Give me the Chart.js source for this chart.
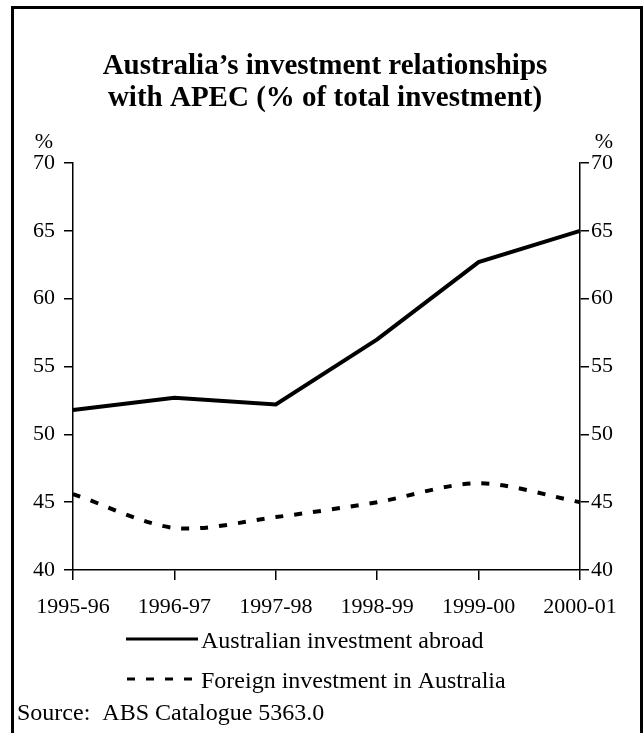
<!DOCTYPE html>
<html lang="en">
<head>
    <meta charset="UTF-8">
    <title>Australia's investment relationships with APEC</title>
    <script src="https://cdn.jsdelivr.net/npm/chart.js"></script>
    <style>
        body { margin: 0; background: #fff; }
        #apecChart { display: block; }
    </style>
</head>
<body>

<canvas id="apecChart" width="643" height="733"></canvas>

<script>
    const years = ['1995-96', '1996-97', '1997-98', '1998-99', '1999-00', '2000-01'];
    const abroad = [51.8, 52.7, 52.2, 57.0, 62.7, 65.0];
    const foreign = [45.6, 43.1, 43.9, 45.0, 46.4, 45.0];
    const yTicks = [40, 45, 50, 55, 60, 65, 70];
    const seriesNames = ['Australian investment abroad', 'Foreign investment in Australia'];

    const serif = "'Liberation Serif', 'Times New Roman', serif";
    const dash = [8, 11];

    // frame, title, % units, legend and source note
    const decorations = {
        id: 'decorations',
        afterDraw(chart) {
            const ctx = chart.ctx;
            ctx.save();
            ctx.strokeStyle = '#000';
            ctx.lineWidth = 3;
            ctx.beginPath();
            ctx.moveTo(12.5, 740);
            ctx.lineTo(12.5, 7.5);
            ctx.lineTo(641.5, 7.5);
            ctx.lineTo(641.5, 740);
            ctx.stroke();

            ctx.fillStyle = '#000';
            ctx.textAlign = 'center';
            ctx.textBaseline = 'middle';
            ctx.font = 'bold 29px ' + serif;
            ctx.fillText('Australia\u2019s investment relationships', 325, 67);
            ctx.fillText('with APEC (% of total investment)', 325, 99);

            ctx.font = '22px ' + serif;
            ctx.fillText('%', 44, 142);
            ctx.fillText('%', 604, 142);

            ctx.lineWidth = 3;
            ctx.beginPath();
            ctx.moveTo(126, 639);
            ctx.lineTo(198, 639);
            ctx.stroke();
            ctx.setLineDash(dash);
            ctx.beginPath();
            ctx.moveTo(127, 679);
            ctx.lineTo(198, 679);
            ctx.stroke();
            ctx.setLineDash([]);

            ctx.textAlign = 'left';
            ctx.font = '24px ' + serif;
            ctx.fillText(seriesNames[0], 201, 642);
            ctx.fillText(seriesNames[1], 201, 682);
            ctx.fillText('Source:  ABS Catalogue 5363.0', 17, 714);
            ctx.restore();
        }
    };

    const axisGrid = {
        display: true,
        drawOnChartArea: false,
        drawTicks: true,
        color: '#000',
        lineWidth: 1.5
    };

    new Chart(document.getElementById('apecChart'), {
        type: 'line',
        data: {
            labels: years,
            datasets: [{
                label: seriesNames[0],
                data: abroad,
                borderColor: '#000',
                borderWidth: 4,
                pointRadius: 0,
                tension: 0,
                yAxisID: 'y'
            }, {
                label: seriesNames[1],
                data: foreign,
                borderColor: '#000',
                borderWidth: 4,
                borderDash: dash,
                pointRadius: 0,
                tension: 0.3,
                yAxisID: 'y'
            }]
        },
        options: {
            responsive: false,
            animation: false,
            layout: { padding: { top: 163, bottom: 111, left: 0, right: 0 } },
            plugins: {
                legend: { display: false },
                title: { display: false },
                tooltip: { enabled: false }
            },
            scales: {
                x: {
                    offset: false,
                    grid: Object.assign({}, axisGrid, { tickLength: 10 }),
                    border: { display: true, color: '#000', width: 1.5 },
                    ticks: { color: '#000', font: { family: serif, size: 22 }, padding: 14, maxRotation: 0, autoSkip: false },
                    afterFit(scale) { scale.height = 52; }
                },
                y: {
                    position: 'left',
                    min: 40,
                    max: 70,
                    afterBuildTicks(scale) { scale.ticks = yTicks.map(v => ({ value: v })); },
                    grid: Object.assign({}, axisGrid, { tickLength: 9 }),
                    border: { display: true, color: '#000', width: 1.5 },
                    ticks: { color: '#000', font: { family: serif, size: 22 }, padding: 9 },
                    afterFit(scale) { scale.width = 73; }
                },
                y2: {
                    position: 'right',
                    min: 40,
                    max: 70,
                    afterBuildTicks(scale) { scale.ticks = yTicks.map(v => ({ value: v })); },
                    grid: Object.assign({}, axisGrid, { tickLength: 9 }),
                    border: { display: true, color: '#000', width: 1.5 },
                    ticks: { color: '#000', font: { family: serif, size: 22 }, padding: 2 },
                    afterFit(scale) { scale.width = 63; }
                }
            }
        },
        plugins: [decorations]
    });
</script>

</body>
</html>
